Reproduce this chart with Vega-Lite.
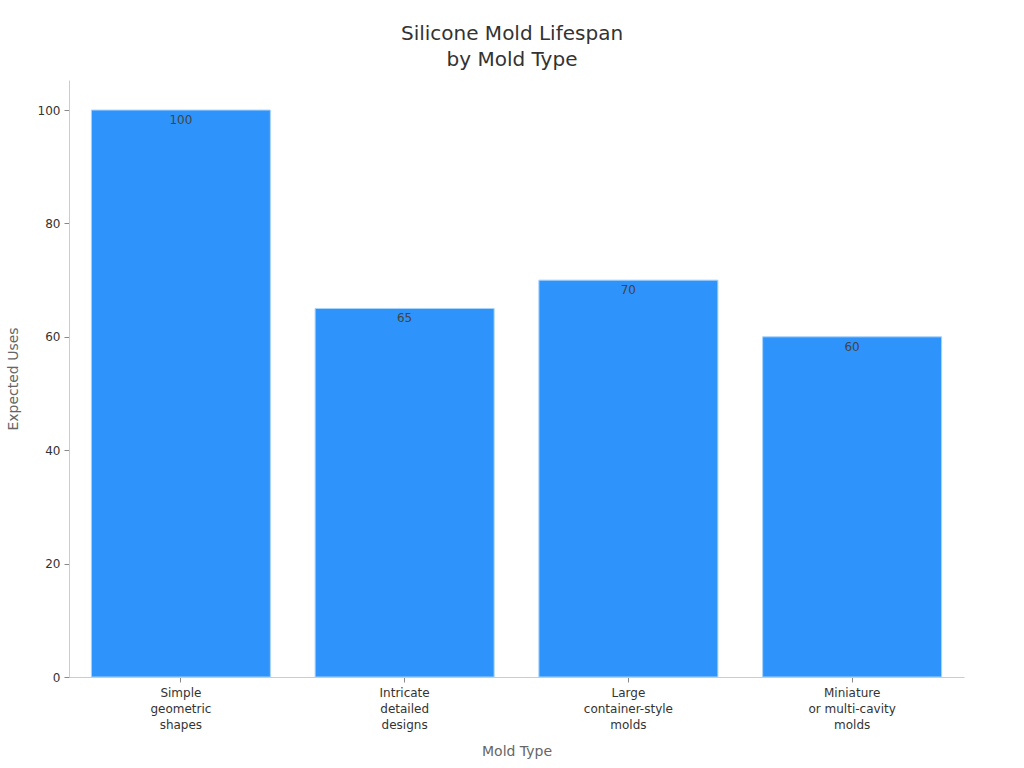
{"$schema":"https://vega.github.io/schema/vega-lite/v6.json","autosize":{"type":"fit","contains":"padding"},"width":1024,"height":768,"padding":{"left":6,"right":60,"top":24,"bottom":10},"background":"white","title":{"text":["Silicone Mold Lifespan","by Mold Type"],"font":"DejaVu Sans","fontSize":20,"fontWeight":"normal","color":"#333333","anchor":"middle","lineHeight":26,"offset":10,"dx":-4.5},"data":{"values":[{"type":"Simple|geometric|shapes","uses":100},{"type":"Intricate|detailed|designs","uses":65},{"type":"Large|container-style|molds","uses":70},{"type":"Miniature|or multi-cavity|molds","uses":60}]},"encoding":{"x":{"field":"type","type":"nominal","sort":null,"title":"Mold Type","scale":{"paddingInner":0.2,"paddingOuter":0.1},"axis":{"labelAngle":0,"labelExpr":"split(datum.label,'|')","labelFont":"DejaVu Sans","labelFontSize":12,"labelColor":"#333333","labelLineHeight":16,"labelPadding":5,"titleFont":"DejaVu Sans","titleFontSize":14,"titleFontWeight":"normal","titleColor":"#666666","titlePadding":14,"domainColor":"#cccccc","tickColor":"#888888","grid":false}},"y":{"field":"uses","type":"quantitative","title":"Expected Uses","scale":{"domain":[0,105.3]},"axis":{"values":[0,20,40,60,80,100],"labelFont":"DejaVu Sans","labelFontSize":12,"labelColor":"#333333","labelPadding":4,"titleFont":"DejaVu Sans","titleFontSize":14,"titleFontWeight":"normal","titleColor":"#666666","titlePadding":17,"domainColor":"#cccccc","tickColor":"#888888","grid":false}}},"layer":[{"mark":{"type":"bar","color":"#2e93fa","stroke":"#a9d3fb","strokeWidth":1}},{"mark":{"type":"text","baseline":"top","dy":5,"font":"DejaVu Sans","fontSize":12,"color":"#444444"},"encoding":{"text":{"field":"uses","type":"quantitative"}}}],"config":{"view":{"stroke":null}}}
